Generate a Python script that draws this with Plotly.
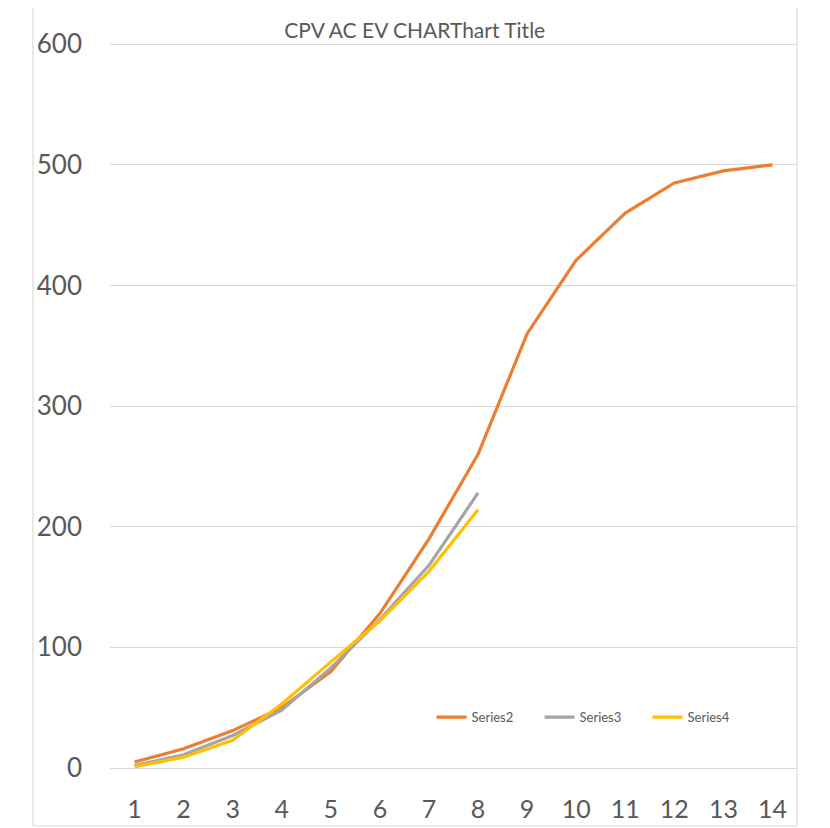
import plotly.graph_objects as go

categories = list(range(1, 15))
series2 = [5, 16, 31, 50, 80, 128, 190, 260, 360, 421, 460, 485, 495, 500]
series3 = [2, 11, 27, 48, 83, 123, 168, 228]
series4 = [1, 9, 23, 53, 88, 122, 163, 214]
names = ["Series2", "Series3", "Series4"]
colors = ["#ED7D31", "#A5A5A5", "#FFC000"]
title_text = "CPV AC EV CHARThart Title"
y_ticks = [0, 100, 200, 300, 400, 500, 600]

fig = go.Figure()
for name, vals, col in zip(names, [series2, series3, series4], colors):
    fig.add_trace(go.Scatter(
        x=categories[:len(vals)], y=vals, name=name, mode="lines",
        line=dict(color=col, width=3.2),
    ))

border = dict(color="#D9D9D9", width=1.2)
fig.update_layout(
    width=830, height=828,
    margin=dict(l=102, r=41, t=35, b=68),
    paper_bgcolor="white", plot_bgcolor="white",
    font=dict(family="Lato", color="#595959"),
    title=dict(text=title_text, x=0.49, xanchor="center", y=0.973, yanchor="middle",
               font=dict(family="Lato", size=21, color="#595959")),
    xaxis=dict(range=[0.5, 14.5], tickmode="array", tickvals=categories,
               showgrid=False, zeroline=False, showline=False,
               ticks="", tickfont=dict(size=25, color="#595959"), ticklabelstandoff=24),
    yaxis=dict(range=[0, 601], tickmode="array", tickvals=y_ticks,
               showgrid=True, gridcolor="#D9D9D9", gridwidth=1.2,
               zeroline=True, zerolinecolor="#D9D9D9", zerolinewidth=1.2,
               showline=False, ticks="", tickfont=dict(size=26, color="#595959"),
               ticklabelstandoff=27),
    legend=dict(orientation="h", x=0.468, y=0.07, xanchor="left", yanchor="middle",
                bgcolor="rgba(0,0,0,0)", font=dict(size=13, color="#595959"),
                entrywidth=63, entrywidthmode="pixels"),
    shapes=[
        dict(type="line", xref="paper", yref="paper", x0=-0.1121, x1=-0.1121,
             y0=-0.080, y1=1.06, line=border, layer="below"),
        dict(type="line", xref="paper", yref="paper", x0=1.0, x1=1.0,
             y0=-0.080, y1=1.06, line=border, layer="below"),
        dict(type="line", xref="paper", yref="paper", x0=-0.1121, x1=1.0,
             y0=-0.080, y1=-0.080, line=border, layer="below"),
    ],
)

fig.write_html("out.html")
